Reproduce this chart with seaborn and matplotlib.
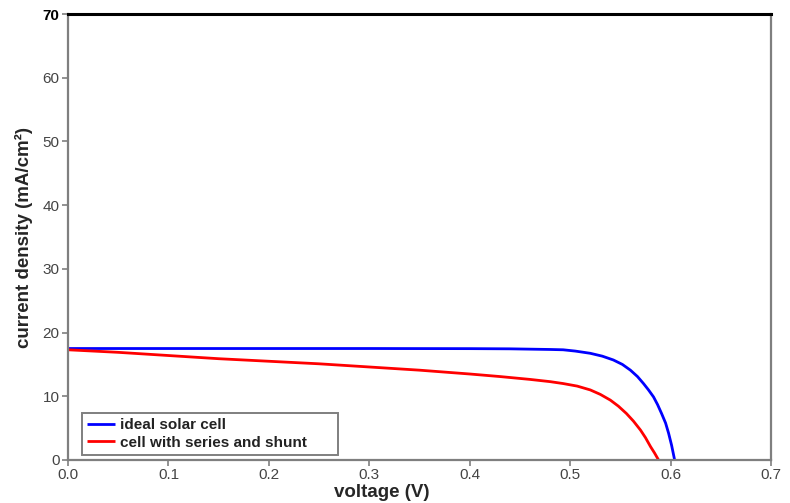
import numpy as np
import pandas as pd
import matplotlib
matplotlib.use("Agg")
import matplotlib.pyplot as plt
import seaborn as sns

# J-V curve readings: voltage (V) and current density (mA/cm^2)
ideal_voltage = [0.0, 0.1, 0.2, 0.3, 0.4, 0.44, 0.46, 0.48, 0.493, 0.505,
                 0.52, 0.532, 0.543, 0.552, 0.560, 0.567, 0.573, 0.578, 0.583,
                 0.587, 0.591, 0.595, 0.598, 0.601, 0.604]
ideal_current = [17.5, 17.5, 17.5, 17.5, 17.48, 17.45, 17.4, 17.35, 17.3, 17.1,
                 16.75, 16.3, 15.7, 15.0, 14.1, 13.1, 12.0, 11.0, 9.9,
                 8.7, 7.3, 5.8, 4.2, 2.3, 0.0]

lossy_voltage = [0.0, 0.05, 0.10, 0.15, 0.20, 0.25, 0.30, 0.35, 0.40, 0.43,
                 0.46, 0.48, 0.493, 0.507, 0.52, 0.53, 0.54, 0.548, 0.556,
                 0.563, 0.570, 0.575, 0.580, 0.584, 0.588]
lossy_current = [17.3, 16.9, 16.4, 15.9, 15.5, 15.1, 14.6, 14.1, 13.5, 13.1,
                 12.65, 12.3, 12.0, 11.6, 11.0, 10.3, 9.4, 8.45, 7.3,
                 6.1, 4.7, 3.5, 2.1, 1.1, 0.0]

series_names = ["ideal solar cell", "cell with series and shunt"]
series_colors = ["#0000ff", "#ff0000"]

x_ticks = [0.0, 0.1, 0.2, 0.3, 0.4, 0.5, 0.6, 0.7]
y_ticks = [0, 10, 20, 30, 40, 50, 60, 70]

df = pd.concat([
    pd.DataFrame({"voltage": ideal_voltage, "current": ideal_current, "cell": series_names[0]}),
    pd.DataFrame({"voltage": lossy_voltage, "current": lossy_current, "cell": series_names[1]}),
], ignore_index=True)

sns.set_theme(style="ticks")
plt.rcParams["font.family"] = ["Liberation Sans", "DejaVu Sans"]

fig = plt.figure(figsize=(7.9, 5.03), dpi=100)
ax = fig.add_axes([0.0861, 0.0855, 0.8899, 0.8865])

sns.lineplot(data=df, x="voltage", y="current", hue="cell",
             palette=dict(zip(series_names, series_colors)),
             linewidth=2.0, sort=False, estimator=None, ax=ax,
             solid_joinstyle="round", solid_capstyle="butt")

ax.set_xlim(0, 0.7)
ax.set_ylim(0, 70)
ax.set_xticks(x_ticks)
ax.set_xticklabels([f"{v:.1f}" for v in x_ticks])
ax.set_yticks(y_ticks)
ax.set_yticklabels([str(v) for v in y_ticks])

gray = "#7f7f7f"
for side in ["left", "right", "bottom"]:
    ax.spines[side].set_color(gray)
    ax.spines[side].set_linewidth(1.6)
ax.spines["top"].set_color("black")
ax.spines["top"].set_linewidth(2.2)

ax.tick_params(axis="both", direction="out", length=4, width=1.2,
               color=gray, labelcolor="#444444", labelsize=11, pad=2)
top_label = ax.get_yticklabels()[-1]
top_label.set_fontweight("bold")
top_label.set_color("black")

ax.set_xlabel("voltage (V)", fontsize=13.5, fontweight="bold")
ax.set_ylabel("current density (mA/cm²)", fontsize=13.5, fontweight="bold")
ax.xaxis.set_label_coords(0.446, -0.054)
ax.yaxis.set_label_coords(-0.05, 0.498)

leg = ax.legend(loc="lower left", bbox_to_anchor=(0.0199, 0.0112, 0.364, 0.1),
                mode="expand", prop={"weight": "bold", "size": 11},
                frameon=True, fancybox=False, framealpha=1, edgecolor=gray,
                borderpad=0.35, handlelength=1.8, labelspacing=0.24,
                handletextpad=0.35, borderaxespad=0)
leg.get_frame().set_linewidth(1.4)
for t in leg.get_texts():
    t.set_color("#222222")

fig.savefig("out.png", dpi=100)
